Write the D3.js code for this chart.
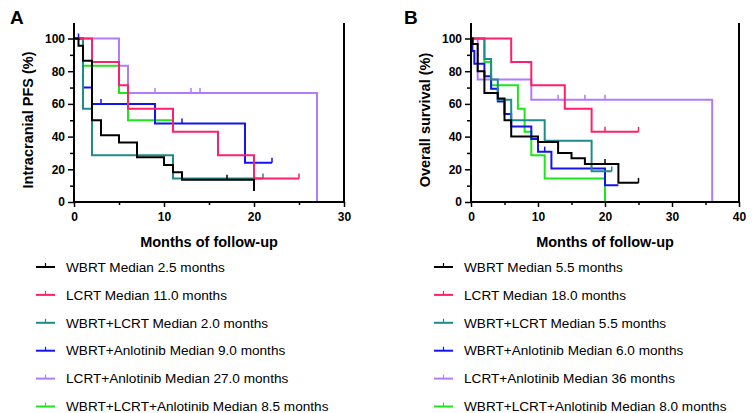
<!DOCTYPE html>
<html><head><meta charset="utf-8">
<script src="https://cdn.jsdelivr.net/npm/d3@7"></script>
<style>
html,body{margin:0;padding:0;background:#fff;}
svg{display:block;font-family:"Liberation Sans",Arial,sans-serif;}
</style></head>
<body><svg id="c" width="752" height="413"></svg>
<script>
// ---------- DATA ----------
const colors = ["#000000", "#FF1F6B", "#1E8C8A", "#1414F0", "#B07CFF", "#1EE61E"];

// Panel A: Intracranial PFS
const pfsLegend = ["WBRT Median 2.5 months", "LCRT Median 11.0 months", "WBRT+LCRT Median 2.0 months",
  "WBRT+Anlotinib Median 9.0 months", "LCRT+Anlotinib Median 27.0 months", "WBRT+LCRT+Anlotinib Median 8.5 months"];
const pfsTimes = [
  [0, 0.5, 1, 2, 3, 5, 7, 10, 11, 12, 20],
  [0, 2, 5, 6, 11, 16, 20],
  [0, 1, 2, 11],
  [0, 1, 2, 9, 19],
  [0, 5, 6, 27],
  [0, 1, 5, 6]
];
const pfsSurv = [
  [100, 95.5, 86.4, 50, 40.9, 36.4, 27.3, 22.7, 18.2, 13.6, 6.8],
  [100, 85.7, 71.4, 57.1, 42.9, 28.6, 14.3],
  [100, 57.1, 28.6, 14.3],
  [100, 70, 60, 48, 24],
  [100, 83.3, 66.7, 0],
  [100, 83.3, 66.7, 50]
];
const pfsEnd = [20, 25, 21, 22, 27, 11];
const pfsCensor = [[17], [25], [21], [0.5, 3, 12, 22], [9, 13, 14], []];
const pfsXTicks = [0, 10, 20, 30];

// Panel B: Overall survival
const osLegend = ["WBRT Median 5.5 months", "LCRT Median 18.0 months", "WBRT+LCRT Median 5.5 months",
  "WBRT+Anlotinib Median 6.0 months", "LCRT+Anlotinib Median 36 months", "WBRT+LCRT+Anlotinib Median 8.0 months"];
const osTimes = [
  [0, 0.25, 1, 2, 4, 5, 6, 10, 13, 15, 17, 22],
  [0, 6, 9, 14, 18],
  [0, 2, 3, 4, 6, 11, 18],
  [0, 0.2, 0.5, 2, 3, 4, 5, 6, 9, 10, 12, 20],
  [0, 1, 9, 36],
  [0, 2, 3, 7, 8, 9, 11, 20]
];
const osSurv = [
  [100, 96.7, 80, 66.7, 63.3, 50, 40, 36.7, 30, 26.7, 23.3, 11.7],
  [100, 85.7, 71.4, 57.1, 42.9],
  [100, 87.5, 75, 62.5, 50, 37.5, 18.75],
  [100, 92.3, 84.6, 76.9, 69.2, 61.5, 53.8, 46.2, 38.5, 30.8, 20.5, 10.3],
  [100, 75, 62.5, 0],
  [100, 85.7, 71.4, 57.1, 42.9, 28.6, 14.3, 0]
];
const osEnd = [25, 25, 21, 22, 36, 20];
const osCensor = [[20, 25], [20, 25], [21], [11], [13, 17, 20], []];
const osXTicks = [0, 10, 20, 30, 40];

const yTicks = [0, 20, 40, 60, 80, 100];
const yMinor = [10, 30, 50, 70, 90];

// ---------- DRAW ----------
const svg = d3.select("#c");

function survAt(times, surv, t) {
  let v = surv[0];
  for (let i = 0; i < times.length; i++) if (times[i] <= t) v = surv[i];
  return v;
}

function panel(o) {
  const x = d3.scaleLinear().domain([0, o.xmax]).range([o.x0, o.x1]);
  const y = d3.scaleLinear().domain([0, 100]).range([202, 38.5]);
  const g = svg.append("g");

  // curves (reverse order so black on top)
  for (let k = o.times.length - 1; k >= 0; k--) {
    const pts = o.times[k].map((t, i) => [t, o.surv[k][i]]);
    const last = pts[pts.length - 1];
    if (o.end[k] > last[0]) pts.push([o.end[k], last[1]]);
    g.append("path").datum(pts)
      .attr("d", d3.line().x(d => x(d[0])).y(d => y(d[1])).curve(d3.curveStepAfter))
      .attr("fill", "none").attr("stroke", colors[k]).attr("stroke-width", 2);
    o.censor[k].forEach(c => {
      const v = survAt(o.times[k], o.surv[k], c);
      g.append("line").attr("x1", x(c)).attr("x2", x(c))
        .attr("y1", y(v)).attr("y2", y(v) - 5)
        .attr("stroke", colors[k]).attr("stroke-width", 1.5);
    });
  }

  // y axis
  const ya = g.append("g").attr("transform", `translate(${o.x0},0)`)
    .call(d3.axisLeft(y).tickValues(yTicks).tickSize(6).tickPadding(3).tickSizeOuter(0));
  ya.select(".domain").remove();
  ya.selectAll("text").attr("font-size", 12).attr("font-weight", "bold")
    .attr("font-family", "Liberation Sans, Arial, sans-serif");
  ya.selectAll("line").attr("stroke-width", 1.5);
  const ym = g.append("g").attr("transform", `translate(${o.x0},0)`)
    .call(d3.axisLeft(y).tickValues(yMinor).tickSize(4).tickFormat(""));
  ym.select(".domain").remove();
  ym.selectAll("line").attr("stroke-width", 1.5);
  g.append("line").attr("x1", o.x0).attr("x2", o.x0).attr("y1", 23).attr("y2", 203)
    .attr("stroke", "#000").attr("stroke-width", 2);
  g.append("line").attr("x1", o.x1).attr("x2", o.x1).attr("y1", 23).attr("y2", 203)
    .attr("stroke", "#000").attr("stroke-width", 2);

  // x axis
  const xa = g.append("g").attr("transform", "translate(0,202)")
    .call(d3.axisBottom(x).tickValues(o.xTicks).tickSize(5).tickPadding(5).tickSizeOuter(0));
  xa.select(".domain").remove();
  xa.selectAll("text").attr("font-size", 12).attr("font-weight", "bold")
    .attr("font-family", "Liberation Sans, Arial, sans-serif");
  xa.selectAll("line").attr("stroke-width", 1.5);
  const minorX = d3.range(5, o.xmax, 10);
  const xm = g.append("g").attr("transform", "translate(0,202)")
    .call(d3.axisBottom(x).tickValues(minorX).tickSize(3).tickFormat(""));
  xm.select(".domain").remove();
  xm.selectAll("line").attr("stroke-width", 1.5);
  g.append("line").attr("x1", o.x0 - 1).attr("x2", o.x1 + 1).attr("y1", 202).attr("y2", 202)
    .attr("stroke", "#000").attr("stroke-width", 2);

  // titles
  g.append("text").attr("x", (o.x0 + o.x1) / 2).attr("y", 247).attr("text-anchor", "middle")
    .attr("font-size", 14.5).attr("font-weight", "bold").text("Months of follow-up");
  g.append("text").attr("transform", `translate(${o.ytx},120) rotate(-90)`)
    .attr("text-anchor", "middle").attr("font-size", 14.5).attr("font-weight", "bold").text(o.ytitle);
  g.append("text").attr("x", o.lx).attr("y", 24).attr("font-size", 19).attr("font-weight", "bold").text(o.label);

  // legend
  o.legend.forEach((t, i) => {
    const ly = 267 + i * 27.9;
    g.append("line").attr("x1", o.legx).attr("x2", o.legx + 19).attr("y1", ly).attr("y2", ly)
      .attr("stroke", colors[i]).attr("stroke-width", 2);
    g.append("line").attr("x1", o.legx + 9.5).attr("x2", o.legx + 9.5).attr("y1", ly).attr("y2", ly - 4)
      .attr("stroke", colors[i]).attr("stroke-width", 1.2);
    g.append("text").attr("x", o.legx + 30).attr("y", ly + 4.7).attr("font-size", 13.6).text(t);
  });
}

panel({x0: 74, x1: 344, xmax: 30, xTicks: pfsXTicks, times: pfsTimes, surv: pfsSurv, end: pfsEnd,
  censor: pfsCensor, legend: pfsLegend, ytitle: "Intracranial PFS (%)", ytx: 33, label: "A", lx: 10, legx: 36});
panel({x0: 471, x1: 739, xmax: 40, xTicks: osXTicks, times: osTimes, surv: osSurv, end: osEnd,
  censor: osCensor, legend: osLegend, ytitle: "Overall survival (%)", ytx: 430, label: "B", lx: 404, legx: 434});
</script></body></html>
